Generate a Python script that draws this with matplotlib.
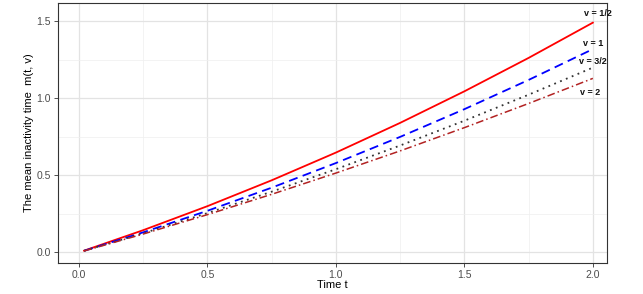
import matplotlib
matplotlib.use('Agg')
import matplotlib.pyplot as plt

t = [0.02, 0.25, 0.5, 0.75, 1.0, 1.25, 1.5, 1.75, 2.0]
m_half = [0.011, 0.144, 0.300, 0.468, 0.648, 0.841, 1.046, 1.263, 1.492]
m_one = [0.010, 0.130, 0.270, 0.420, 0.580, 0.750, 0.930, 1.120, 1.320]
m_three_half = [0.010, 0.124, 0.255, 0.394, 0.540, 0.694, 0.855, 1.024, 1.200]
m_two = [0.009, 0.119, 0.245, 0.377, 0.515, 0.659, 0.810, 0.967, 1.130]

labels = ['v = 1/2', 'v = 1', 'v = 3/2', 'v = 2']
label_x = [2.02, 2.0, 2.0, 1.99]
label_y = [1.55, 1.357, 1.24, 1.04]

plt.rcParams['font.family'] = ['Liberation Sans', 'DejaVu Sans']

fig = plt.figure(figsize=(6.43, 2.94), dpi=100)
ax = fig.add_axes([0.090, 0.105, 0.854, 0.885])

ax.plot(t, m_half, color='#ff0000', lw=1.3, ls='-')
ax.plot(t, m_one, color='#0000ff', lw=1.3, ls=(0, (5, 3)))
ax.plot(t, m_three_half, color='#333333', lw=1.3, ls=(0, (1, 2.5)))
ax.plot(t, m_two, color='#b22222', lw=1.1, ls=(0, (5, 2, 1, 2)))

for lab, x, y in zip(labels, label_x, label_y):
    ax.text(x, y, lab, fontsize=6.5, fontweight='bold', color='#111111', ha='center', va='center')

ax.set_xlim(-0.082, 2.055)
ax.set_ylim(-0.07, 1.62)
ax.set_xticks([0.0, 0.5, 1.0, 1.5, 2.0])
ax.set_yticks([0.0, 0.5, 1.0, 1.5])
ax.set_xticks([0.25, 0.75, 1.25, 1.75], minor=True)
ax.set_yticks([0.25, 0.75, 1.25], minor=True)
ax.xaxis.set_major_formatter(matplotlib.ticker.FormatStrFormatter('%.1f'))
ax.yaxis.set_major_formatter(matplotlib.ticker.FormatStrFormatter('%.1f'))
ax.grid(which='major', color='#e3e3e3', lw=0.9)
ax.grid(which='minor', color='#efefef', lw=0.5)
ax.set_axisbelow(True)
ax.tick_params(which='major', length=3, color='#333333', labelsize=7.5, labelcolor='#4d4d4d', width=0.6, pad=2)
ax.tick_params(which='minor', length=0)
for s in ax.spines.values():
    s.set_color('#333333')
    s.set_linewidth(0.8)

ax.set_xlabel('Time t', fontsize=8, labelpad=0)
ax.set_ylabel('The mean inactivity time  m(t, v)', fontsize=8, labelpad=2)

fig.savefig('out.png', dpi=100)
